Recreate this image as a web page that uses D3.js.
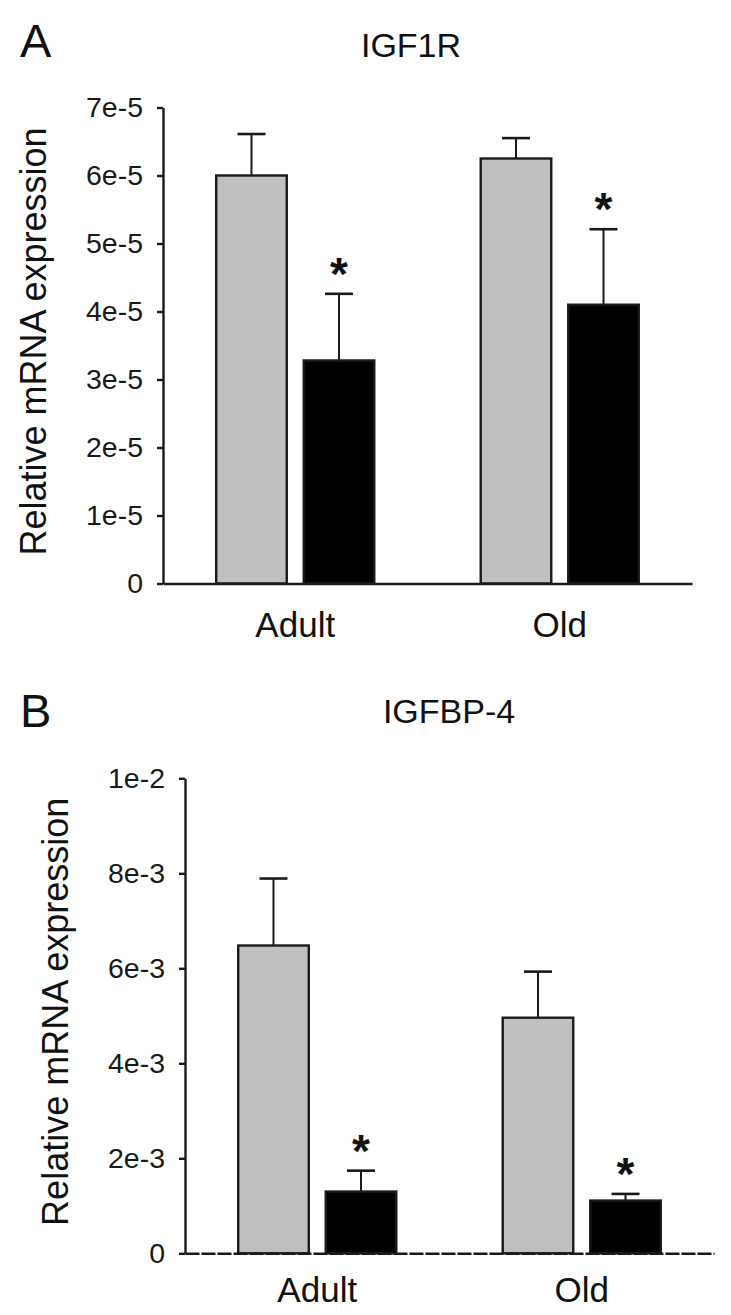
<!DOCTYPE html>
<html>
<head>
<meta charset="utf-8">
<script src="https://cdn.jsdelivr.net/npm/d3@7"></script>
<style>
  html, body { margin: 0; padding: 0; background: #fff; }
  svg { display: block; font-family: "Liberation Sans", Arial, Helvetica, sans-serif; }
</style>
</head>
<body>
<svg id="chart" width="731" height="1315"></svg>
<script>
// ---------- data ----------
const groups = ["Adult", "Old"];
const seriesKeys = ["control", "treated"];
const seriesFill = ["#c0c0c0", "#000000"];

// Panel A: IGF1R
const igf1rTitle = "IGF1R";
const igf1rControl = [6.00e-5, 6.25e-5];
const igf1rControlErr = [0.61e-5, 0.30e-5];
const igf1rTreated = [3.28e-5, 4.10e-5];
const igf1rTreatedErr = [0.98e-5, 1.11e-5];
const igf1rSignificant = [true, true];
const igf1rTicks = [0, 1e-5, 2e-5, 3e-5, 4e-5, 5e-5, 6e-5, 7e-5];

// Panel B: IGFBP-4
const igfbp4Title = "IGFBP-4";
const igfbp4Control = [6.48e-3, 4.96e-3];
const igfbp4ControlErr = [1.41e-3, 0.97e-3];
const igfbp4Treated = [1.30e-3, 1.11e-3];
const igfbp4TreatedErr = [0.44e-3, 0.14e-3];
const igfbp4Significant = [true, true];
const igfbp4Ticks = [0, 2e-3, 4e-3, 6e-3, 8e-3, 1e-2];

const yLabel = "Relative mRNA expression";

// ---------- drawing ----------
const svg = d3.select("#chart");
const fmt = d3.format(".0e");
const tickFmt = v => v === 0 ? "0" : fmt(v);

function drawPanel(cfg) {
  const { letter, title, control, controlErr, treated, treatedErr, sig, ticks,
          left, right, top, bottom, letterY, titleX, titleY, catY, yLabelX, axisDash } = cfg;

  const g = svg.append("g");

  const y = d3.scaleLinear().domain([0, ticks[ticks.length - 1]]).range([bottom, top]);
  const x0 = d3.scaleBand().domain(groups).range([left, right]).padding(0);
  const x1 = d3.scaleBand().domain(seriesKeys).range([0, x0.bandwidth()])
               .paddingInner(0.194).paddingOuter(0.608);

  const rows = [];
  groups.forEach((grp, i) => {
    rows.push({ grp, key: "control", v: control[i], e: controlErr[i], sig: false, fill: seriesFill[0] });
    rows.push({ grp, key: "treated", v: treated[i], e: treatedErr[i], sig: sig[i], fill: seriesFill[1] });
  });

  // bars
  g.selectAll("rect.bar").data(rows).join("rect")
    .attr("class", "bar")
    .attr("x", d => x0(d.grp) + x1(d.key))
    .attr("width", x1.bandwidth())
    .attr("y", d => y(d.v))
    .attr("height", d => y(0) - y(d.v))
    .attr("fill", d => d.fill)
    .attr("stroke", "#1a1a1a")
    .attr("stroke-width", 2.4);

  // error bars (upper only)
  const capHalf = 14;
  const eb = g.selectAll("g.err").data(rows).join("g").attr("class", "err");
  eb.append("line")
    .attr("x1", d => x0(d.grp) + x1(d.key) + x1.bandwidth() / 2)
    .attr("x2", d => x0(d.grp) + x1(d.key) + x1.bandwidth() / 2)
    .attr("y1", d => y(d.v))
    .attr("y2", d => y(d.v + d.e))
    .attr("stroke", "#1a1a1a").attr("stroke-width", 2);
  eb.append("line")
    .attr("x1", d => x0(d.grp) + x1(d.key) + x1.bandwidth() / 2 - capHalf)
    .attr("x2", d => x0(d.grp) + x1(d.key) + x1.bandwidth() / 2 + capHalf)
    .attr("y1", d => y(d.v + d.e))
    .attr("y2", d => y(d.v + d.e))
    .attr("stroke", "#1a1a1a").attr("stroke-width", 2.6);

  // significance asterisks
  g.selectAll("text.sig").data(rows.filter(d => d.sig)).join("text")
    .attr("class", "sig")
    .attr("x", d => x0(d.grp) + x1(d.key) + x1.bandwidth() / 2)
    .attr("y", d => y(d.v + d.e) - 4)
    .attr("text-anchor", "middle")
    .attr("font-size", 46)
    .attr("font-weight", "bold")
    .attr("fill", "#111")
    .text("*");

  // y axis
  const yAxis = d3.axisLeft(y).tickValues(ticks).tickFormat(tickFmt)
                  .tickSize(6).tickSizeOuter(0).tickPadding(14);
  const ya = g.append("g").attr("transform", `translate(${left},0)`).call(yAxis);
  ya.select(".domain").attr("stroke", "#1a1a1a").attr("stroke-width", 2.4);
  ya.selectAll(".tick line").attr("stroke", "#1a1a1a").attr("stroke-width", 2.4);
  ya.selectAll(".tick text").attr("font-size", 28.5).attr("fill", "#1a1a1a")
    .attr("font-family", '"Liberation Sans", Arial, sans-serif');

  // x axis (baseline) with category labels
  const xAxis = d3.axisBottom(x0).tickSize(0).tickSizeOuter(0).tickPadding(0);
  const xa = g.append("g").attr("transform", `translate(0,${bottom})`).call(xAxis);
  xa.select(".domain").attr("stroke", "#1a1a1a").attr("stroke-width", 2.4)
    .attr("stroke-dasharray", axisDash);
  xa.selectAll(".tick text")
    .attr("y", catY - bottom).attr("dy", 0)
    .attr("font-size", 35).attr("fill", "#111")
    .attr("font-family", '"Liberation Sans", Arial, sans-serif');

  // y label
  g.append("text")
    .attr("transform", `translate(${yLabelX},${(top + bottom) / 2 - 4}) rotate(-90)`)
    .attr("text-anchor", "middle")
    .attr("font-size", 36)
    .attr("fill", "#111")
    .text(yLabel);

  // panel letter and title
  g.append("text").attr("x", 20).attr("y", letterY)
    .attr("font-size", 47).attr("fill", "#111").text(letter);
  g.append("text").attr("x", titleX).attr("y", titleY)
    .attr("text-anchor", "middle").attr("font-size", 34).attr("fill", "#111").text(title);
}

drawPanel({
  letter: "A", title: igf1rTitle,
  control: igf1rControl, controlErr: igf1rControlErr,
  treated: igf1rTreated, treatedErr: igf1rTreatedErr,
  sig: igf1rSignificant, ticks: igf1rTicks,
  left: 163, right: 692, top: 107.5, bottom: 583.5,
  letterY: 57, titleX: 411, titleY: 57, catY: 637, yLabelX: 46, axisDash: null
});

drawPanel({
  letter: "B", title: igfbp4Title,
  control: igfbp4Control, controlErr: igfbp4ControlErr,
  treated: igfbp4Treated, treatedErr: igfbp4TreatedErr,
  sig: igfbp4Significant, ticks: igfbp4Ticks,
  left: 185, right: 714, top: 778.3, bottom: 1253.3,
  letterY: 727, titleX: 449, titleY: 723, catY: 1301.7, yLabelX: 68, axisDash: "14,2"
});
</script>
</body>
</html>
